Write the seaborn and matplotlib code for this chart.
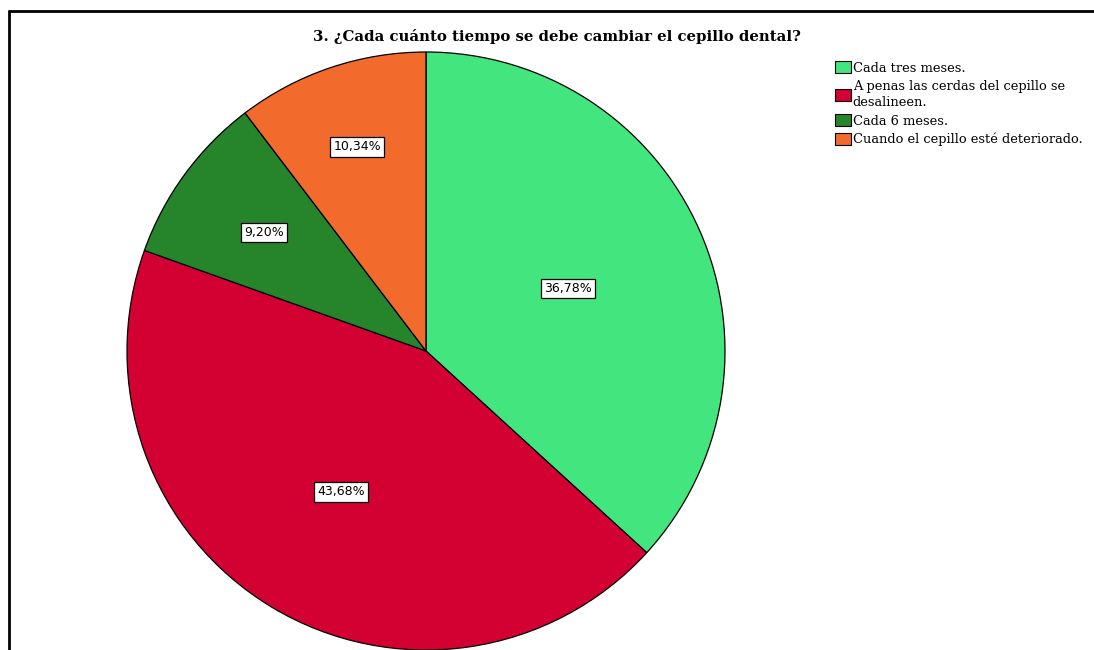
import numpy as np
import pandas as pd
import matplotlib
matplotlib.use("Agg")
import matplotlib.pyplot as plt
from matplotlib.patches import Patch
from matplotlib.lines import Line2D
import seaborn as sns

# answers (n = 87)
categories = ["Cada tres meses.",
              "A penas las cerdas del cepillo se\ndesalineen.",
              "Cada 6 meses.",
              "Cuando el cepillo esté deteriorado."]
counts = [32, 38, 8, 9]
colors = ["#43e67e", "#d30032", "#26852a", "#f36b2c"]
label_dist = [0.52, 0.55, 0.67, 0.72]

sns.set_theme(style="white")
plt.rcParams['font.family'] = ['DejaVu Serif']
plt.rcParams['text.color'] = 'black'

df = pd.DataFrame({'answer': categories, 'n': counts})
df['pct'] = df['n'] / df['n'].sum() * 100

fig = plt.figure(figsize=(10.94, 6.5), dpi=100)
ax = fig.add_axes([127 / 1094, 0.0, 598 / 1094, 598 / 650])

wedges, _ = ax.pie(df['n'], colors=colors, startangle=90, counterclock=False,
                   wedgeprops={'edgecolor': 'black', 'linewidth': 0.9})
ax.set_xlim(-1, 1)
ax.set_ylim(-1, 1)
ax.set_aspect('equal')
ax.axis('off')

for w, p, d in zip(wedges, df['pct'], label_dist):
    mid = np.deg2rad((w.theta1 + w.theta2) / 2)
    ax.text(d * np.cos(mid), d * np.sin(mid), f"{p:.2f}%".replace(".", ","),
            ha='center', va='center', fontsize=9, family='DejaVu Sans', color='black',
            bbox=dict(boxstyle='square,pad=0.25', fc='white', ec='black', lw=0.9))

fig.text(557 / 1094, 1 - 37 / 650, "3. ¿Cada cuánto tiempo se debe cambiar el cepillo dental?",
         ha='center', va='center', fontsize=10.75, fontweight='bold', color='black')

handles = [Patch(facecolor=c, edgecolor='black', linewidth=0.8) for c in colors]
leg = fig.legend(handles, categories, loc='upper left', bbox_to_anchor=(826 / 1094, 1 - 52 / 650),
                 frameon=False, fontsize=9.4, handlelength=1.2, handleheight=1.05,
                 handletextpad=0.15, labelspacing=0.4, borderpad=0.2)
for t in leg.get_texts():
    t.set_color('black')
    t.set_linespacing(1.3)

# outer frame (top and left lines)
fig.add_artist(Line2D([9 / 1094, 1.0], [1 - 11 / 650, 1 - 11 / 650], transform=fig.transFigure,
                      color='black', lw=2))
fig.add_artist(Line2D([9 / 1094, 9 / 1094], [0.0, 1 - 11 / 650], transform=fig.transFigure,
                      color='black', lw=2))

fig.savefig("out.png", dpi=100, facecolor='white')
